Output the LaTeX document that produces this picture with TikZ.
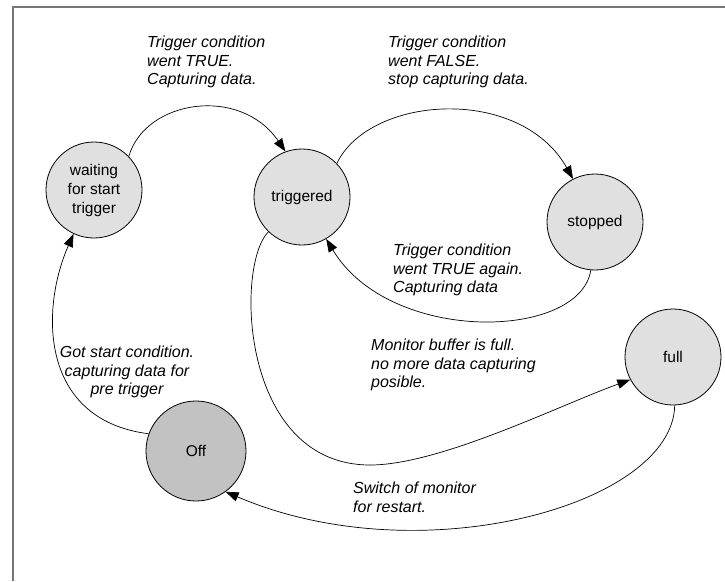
\documentclass[tikz,border=0pt]{standalone}
\usepackage{fontspec}
\setmainfont{Liberation Sans}
\usetikzlibrary{arrows.meta}
\definecolor{statefill}{HTML}{E0E0E0}
\definecolor{offfill}{HTML}{C2C2C2}
\definecolor{framegray}{HTML}{767676}
\begin{document}
\begin{tikzpicture}[x=1pt,y=-1pt,
  state/.style={circle, draw=black, line width=0.8pt, fill=statefill,
    minimum size=96pt, inner sep=0pt, align=center,
    font=\fontsize{15.5}{19}\selectfont},
  lbl/.style={inner sep=0pt, align=left, anchor=west,
    font=\fontsize{16}{18.8}\selectfont\itshape},
  conn/.style={draw=black, line width=0.7pt,
    -{Triangle[length=13pt,width=9.5pt]}}]
  \useasboundingbox (0,0) rectangle (725,581);
  % frame
  \draw[framegray, line width=2pt] (12.5,581) -- (12.5,7) -- (725,7);

  % states
  \node[state] (wait) at (94,190) {waiting\\for start\\trigger};
  \node[state] (trig) at (302,197) {triggered};
  \node[state] (stop) at (595,222) {stopped};
  \node[state] (full) at (673,357) {full};
  \node[state, fill=offfill, minimum size=100pt] (off) at (196,451) {Off};

  % transition labels
  \node[lbl] (l1) at (147,62) {Trigger condition\\went TRUE.\\Capturing data.};
  \node[lbl] (l2) at (388,62) {Trigger condition\\went FALSE.\\stop capturing data.};
  \node[lbl] (l3) at (393,270) {Trigger condition\\went TRUE again.\\Capturing data};
  \node[lbl, align=center, anchor=center] (l4) at (127,372) {Got start condition.\\capturing data for\\pre trigger};
  \node[lbl] (l5) at (371,365) {Monitor buffer is full.\\no more data capturing\\posible.};
  \node[lbl] (l6) at (353,497) {Switch of monitor\\for restart.};

  % transitions
  \coordinate (fb) at (370,465);
  \draw[conn] (wait.44) .. controls (145,100) and (240,85) .. (trig.110);
  \draw[conn] (trig.44) .. controls (370,95) and (520,85) .. (stop.117);
  \draw[conn] (stop.265) .. controls (580,340) and (390,345) .. (trig.300);
  \draw[conn] (trig.226) .. controls (235,265) and (240,465) .. (fb)
                         .. controls (440,465) and (560,405) .. (full.208);
  \draw[conn] (full.272) .. controls (673,505) and (420,575) .. (off.306);
  \draw[conn] (off.160) .. controls (40,420) and (40,310) .. (wait.245);
\end{tikzpicture}
\end{document}
